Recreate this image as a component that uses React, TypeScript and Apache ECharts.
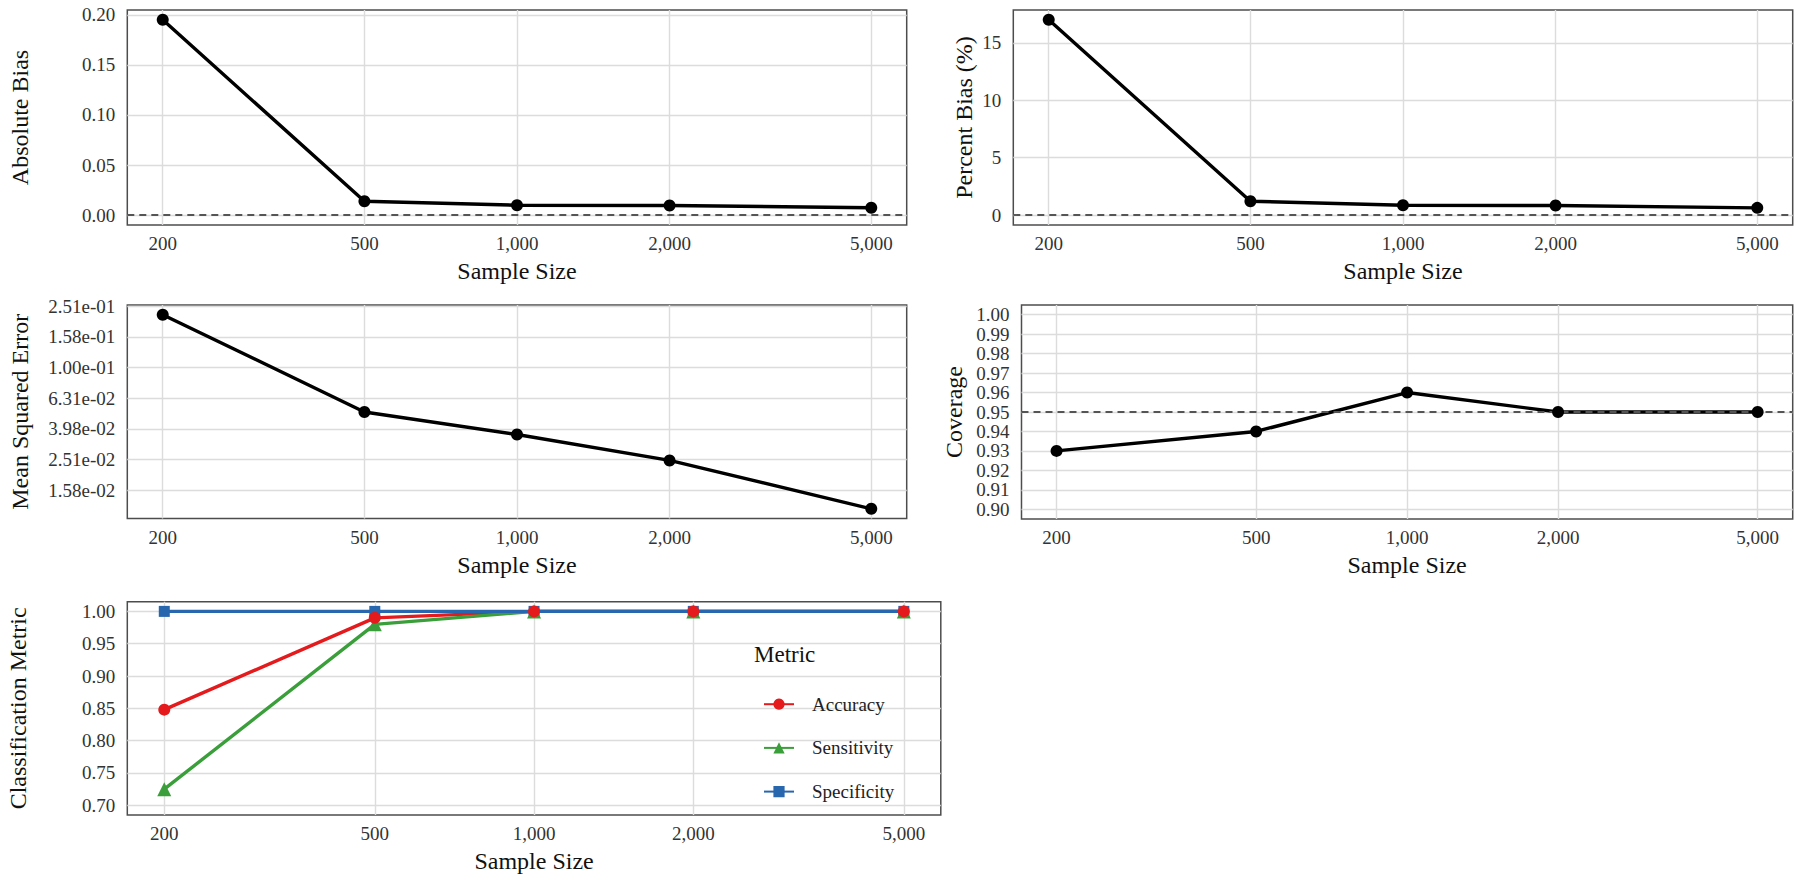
import React, { useEffect, useRef } from "react";
import * as echarts from "echarts";

// Simulation results by sample size
const sampleSizes = [200, 500, 1000, 2000, 5000];
const absoluteBias = [0.195, 0.014, 0.01, 0.0097, 0.0075];
const percentBias = [17.0, 1.22, 0.87, 0.84, 0.64];
const meanSquaredError = [0.221, 0.0513, 0.0366, 0.0248, 0.012];
const coverage = [0.93, 0.94, 0.96, 0.95, 0.95];
const accuracy = [0.848, 0.99, 1, 1, 1];
const sensitivity = [0.725, 0.98, 1, 1, 1];
const specificity = [1, 1, 1, 1, 1];

// Tick values
const absBiasTicks = [0, 0.05, 0.1, 0.15, 0.2];
const pctBiasTicks = [0, 5, 10, 15];
const mseTickExponents = [-1.8, -1.6, -1.4, -1.2, -1.0, -0.8, -0.6];
const coverageTicks = [0.9, 0.91, 0.92, 0.93, 0.94, 0.95, 0.96, 0.97, 0.98, 0.99, 1.0];
const classTicks = [0.7, 0.75, 0.8, 0.85, 0.9, 0.95, 1.0];

// Reference lines
const biasReference = 0;
const nominalCoverage = 0.95;

const metricNames = ["Accuracy", "Sensitivity", "Specificity"];
const metricValues = [accuracy, sensitivity, specificity];
const metricColors = ["#E41A1C", "#3A9F3A", "#2866AE"];
const metricSymbols = ["circle", "triangle", "rect"];

const FONT = "'Liberation Serif', 'Times New Roman', serif";

const expand = (lo: number, hi: number, f = 0.05): [number, number] => {
  const d = (hi - lo) * f;
  return [lo - d, hi + d];
};

const log10 = (v: number) => Math.log10(v);

const fmtSci = (v: number) =>
  v.toExponential(2).replace(/e([+-])(\d)$/, "e$10$2");

export default function App() {
  const ref = useRef<HTMLDivElement>(null);

  useEffect(() => {
    if (!ref.current) return;
    const chart = echarts.init(ref.current, undefined, { renderer: "svg" });

    const xLog = sampleSizes.map(log10);
    const [xMin, xMax] = expand(Math.min(...xLog), Math.max(...xLog));
    const xTickVals = sampleSizes.map(log10);

    const grids = [
      { left: 127.3, top: 10, width: 779.4, height: 215 },
      { left: 1013.3, top: 10, width: 779.4, height: 215 },
      { left: 127.3, top: 305, width: 779.4, height: 213.5 },
      { left: 1021.5, top: 305, width: 771.2, height: 214 },
      { left: 127.3, top: 601.7, width: 813.5, height: 213.3 },
    ].map((g) => ({
      ...g,
      show: true,
      borderColor: "#4d4d4d",
      borderWidth: 1.5,
      backgroundColor: "#ffffff",
    }));

    const gridLine = { show: true, lineStyle: { color: "#dcdcdc", width: 1.4 } };
    const tickText = { fontFamily: FONT, fontSize: 19, color: "#333333" };
    const titleText = { fontFamily: FONT, fontSize: 24, color: "#111111" };

    const xAxes = grids.map((_, i) => ({
      type: "value",
      gridIndex: i,
      min: xMin,
      max: xMax,
      axisLine: { show: false },
      axisTick: { show: false, customValues: xTickVals },
      axisLabel: {
        ...tickText,
        customValues: xTickVals,
        margin: 9,
        formatter: (v: number) => Math.round(Math.pow(10, v)).toLocaleString("en-US"),
      },
      splitLine: gridLine,
      name: "Sample Size",
      nameLocation: "middle",
      nameGap: 34,
      nameTextStyle: titleText,
    }));

    const absRange = expand(Math.min(0, ...absoluteBias), Math.max(...absoluteBias));
    const pctRange = expand(Math.min(0, ...percentBias), Math.max(...percentBias));
    const mseLog = meanSquaredError.map(log10);
    const mseRange = expand(Math.min(...mseLog), Math.max(...mseLog));
    const covRange = expand(0.9, 1.0);
    const clsRange = expand(0.7, 1.0);

    const yAxis = (
      i: number,
      name: string,
      range: [number, number],
      ticks: number[],
      formatter: (v: number) => string,
      nameGap: number
    ) => ({
      type: "value",
      gridIndex: i,
      min: range[0],
      max: range[1],
      axisLine: { show: false },
      axisTick: { show: false, customValues: ticks },
      axisLabel: { ...tickText, customValues: ticks, margin: 12, formatter },
      splitLine: gridLine,
      name,
      nameLocation: "middle",
      nameRotate: 90,
      nameGap,
      nameTextStyle: titleText,
    });

    const yAxes = [
      yAxis(0, "Absolute Bias", absRange, absBiasTicks, (v) => v.toFixed(2), 95),
      yAxis(1, "Percent Bias (%)", pctRange, pctBiasTicks, (v) => String(Math.round(v)), 37),
      yAxis(2, "Mean Squared Error", mseRange, mseTickExponents, (v) => fmtSci(Math.pow(10, v)), 95),
      yAxis(3, "Coverage", covRange, coverageTicks, (v) => v.toFixed(2), 56),
      yAxis(4, "Classification Metric", clsRange, classTicks, (v) => v.toFixed(2), 97),
    ];

    const dashed = (value: number) => ({
      silent: true,
      symbol: "none",
      z: 4,
      label: { show: false },
      lineStyle: { type: [7, 5], color: "#555555", width: 1.9 },
      data: [{ yAxis: value }],
    });

    const blackPanel = (i: number, ys: number[], refLine: number | null) => {
      const pts = sampleSizes.map((n, k) => [log10(n), ys[k]]);
      return [
        {
          type: "line",
          name: `panel${i}`,
          xAxisIndex: i,
          yAxisIndex: i,
          data: pts,
          showSymbol: false,
          lineStyle: { color: "#000000", width: 3.4 },
          z: 3,
          ...(refLine !== null ? { markLine: dashed(refLine) } : {}),
        },
        {
          type: "scatter",
          name: `panel${i}-points`,
          xAxisIndex: i,
          yAxisIndex: i,
          data: pts,
          symbol: "circle",
          symbolSize: 12,
          itemStyle: { color: "#000000", opacity: 1 },
          z: 6,
        },
      ];
    };

    const metricLines = metricNames.map((name, m) => ({
      type: "line",
      name,
      xAxisIndex: 4,
      yAxisIndex: 4,
      data: sampleSizes.map((n, k) => [log10(n), metricValues[m][k]]),
      showSymbol: false,
      symbol: metricSymbols[m],
      color: metricColors[m],
      lineStyle: { color: metricColors[m], width: 3.4 },
      itemStyle: { color: metricColors[m] },
      z: 3,
    }));

    const metricPoints = [2, 1, 0].map((m) => ({
      type: "scatter",
      name: `${metricNames[m]}-points`,
      xAxisIndex: 4,
      yAxisIndex: 4,
      data: sampleSizes.map((n, k) => [log10(n), metricValues[m][k]]),
      symbol: metricSymbols[m],
      symbolSize: m === 1 ? 14 : m === 2 ? 11 : 12,
      itemStyle: { color: metricColors[m], opacity: 1 },
      z: 6,
    }));

    chart.setOption({
      animation: false,
      backgroundColor: "#ffffff",
      grid: grids,
      xAxis: xAxes,
      yAxis: yAxes,
      legend: {
        data: metricNames,
        orient: "vertical",
        left: 758,
        top: 689.7,
        itemWidth: 30,
        itemHeight: 14,
        itemGap: 24.7,
        selectedMode: false,
        textStyle: {
          fontFamily: FONT,
          fontSize: 19,
          color: "#222222",
          padding: [0, 0, 0, 13],
        },
      },
      graphic: [
        {
          type: "text",
          left: 754,
          top: 643,
          style: { text: "Metric", fontFamily: FONT, fontSize: 23, fill: "#111111" },
        },
      ],
      series: [
        ...blackPanel(0, absoluteBias, biasReference),
        ...blackPanel(1, percentBias, biasReference),
        ...blackPanel(2, mseLog, null),
        ...blackPanel(3, coverage, nominalCoverage),
        ...metricLines,
        ...metricPoints,
      ],
    });

    return () => chart.dispose();
  }, []);

  return (
    <div
      ref={ref}
      style={{ position: "fixed", left: 0, top: 0, width: 1800, height: 880 }}
    />
  );
}
